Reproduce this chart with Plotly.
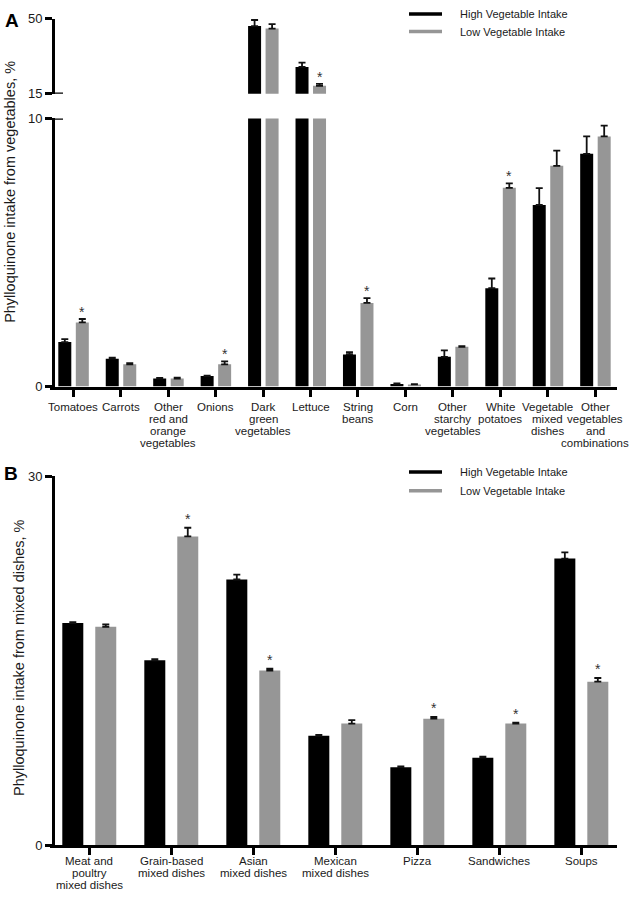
import plotly.graph_objects as go

# ---------------- Data ----------------
veg_categories = ["Tomatoes", "Carrots", "Other<br>red and<br>orange<br>vegetables", "Onions",
                  "Dark<br>green<br>vegetables", "Lettuce", "String<br>beans", "Corn",
                  "Other<br>starchy<br>vegetables", "White<br>potatoes", "Vegetable<br>mixed<br>dishes",
                  "Other<br>vegetables<br>and<br>combinations"]
veg_high = [1.66, 1.04, 0.30, 0.39, 46.5, 27.5, 1.20, 0.10, 1.11, 3.67, 6.77, 8.68]
veg_high_err = [0.11, 0.04, 0.02, 0.02, 2.8, 2.0, 0.08, 0.02, 0.24, 0.36, 0.63, 0.65]
veg_low = [2.39, 0.83, 0.30, 0.83, 45.3, 18.7, 3.12, 0.08, 1.48, 7.41, 8.23, 9.33]
veg_low_err = [0.13, 0.04, 0.03, 0.11, 2.1, 0.9, 0.18, 0.01, 0.03, 0.17, 0.57, 0.40]
veg_sig = [True, False, False, True, False, True, True, False, False, True, False, False]

mixed_categories = ["Meat and<br>poultry<br>mixed dishes", "Grain-based<br>mixed dishes",
                    "Asian<br>mixed dishes", "Mexican<br>mixed dishes", "Pizza", "Sandwiches", "Soups"]
mixed_high = [18.06, 15.04, 21.6, 8.9, 6.36, 7.13, 23.3]
mixed_high_err = [0.08, 0.10, 0.4, 0.07, 0.06, 0.08, 0.5]
mixed_low = [17.76, 25.1, 14.2, 9.9, 10.3, 9.9, 13.3]
mixed_low_err = [0.20, 0.7, 0.15, 0.28, 0.15, 0.08, 0.3]
mixed_sig = [False, True, True, False, True, True, True]

series_names = ["High Vegetable Intake", "Low Vegetable Intake"]
A_lower_ticks = [0, 10]
A_upper_ticks = [15, 50]
B_ticks = [0, 30]

# ---------------- Style ----------------
W, H = 631, 899
FONT = "Liberation Sans, Arial, sans-serif"
BLACK = "#000000"
GRAY = "#969696"
TXT = "#1a1a1a"

def px_x(p):
    return p / W

def px_y(p):
    return 1 - p / H

x_dom = [px_x(50), px_x(617)]
y_pos = px_x(53)

fig = go.Figure()

def add_bars(xa, ya, n, high, high_err, low, low_err, off_b, off_g, width):
    idx = list(range(n))
    fig.add_trace(go.Bar(
        x=idx, y=high, name=series_names[0], xaxis=xa, yaxis=ya,
        offset=off_b, width=width, marker=dict(color=BLACK, line=dict(width=0)),
        error_y=dict(type="data", array=high_err, arrayminus=[0] * n, symmetric=False,
                     color="#111111", thickness=1.8, width=3.5),
        showlegend=False))
    fig.add_trace(go.Bar(
        x=idx, y=low, name=series_names[1], xaxis=xa, yaxis=ya,
        offset=off_g, width=width, marker=dict(color=GRAY, line=dict(width=0)),
        error_y=dict(type="data", array=low_err, arrayminus=[0] * n, symmetric=False,
                     color="#111111", thickness=1.8, width=3.5),
        showlegend=False))

# Panel A geometry
A_w = 0.274
A_ob, A_og = -0.316, 0.053
add_bars("x", "y", len(veg_categories), veg_high, veg_high_err, veg_low, veg_low_err, A_ob, A_og, A_w)
add_bars("x2", "y2", len(veg_categories), veg_high, veg_high_err, veg_low, veg_low_err, A_ob, A_og, A_w)

# Panel B geometry
B_w = 0.256
B_ob, B_og = -0.329, 0.073
add_bars("x3", "y3", len(mixed_categories), mixed_high, mixed_high_err, mixed_low, mixed_low_err, B_ob, B_og, B_w)

annotations = []
# category labels (tight line spacing as in the reference)
def add_cat_labels(cats, xref, first_line_px, spacing, size):
    for i, c in enumerate(cats):
        for j, line in enumerate(c.split("<br>")):
            annotations.append(dict(x=i, y=px_y(first_line_px + j * spacing), xref=xref, yref="paper",
                                    text=line, showarrow=False, xanchor="center", yanchor="middle",
                                    font=dict(size=size, color=TXT, family=FONT)))

add_cat_labels(veg_categories, "x", 406.7, 12.4, 11.5)
add_cat_labels(mixed_categories, "x3", 868.0, 12.4, 11.5)

# significance stars
for i, s in enumerate(veg_sig):
    if s:
        top = veg_low[i] + veg_low_err[i]
        annotations.append(dict(x=i + A_og + A_w / 2, y=top, xref="x",
                                yref="y2" if top > 10 else "y", text="*", showarrow=False,
                                yanchor="middle", yshift=7, font=dict(size=14, color="#333333", family=FONT)))
for i, s in enumerate(mixed_sig):
    if s:
        top = mixed_low[i] + mixed_low_err[i]
        annotations.append(dict(x=i + B_og + B_w / 2, y=top, xref="x3", yref="y3", text="*",
                                showarrow=False, yanchor="middle", yshift=9,
                                font=dict(size=14, color="#333333", family=FONT)))

# panel letters
annotations.append(dict(x=px_x(3), y=px_y(14), xref="paper", yref="paper", text="<b>A</b>",
                        showarrow=False, xanchor="left", yanchor="middle",
                        font=dict(size=19, color=BLACK, family=FONT)))
annotations.append(dict(x=px_x(2), y=px_y(474), xref="paper", yref="paper", text="<b>B</b>",
                        showarrow=False, xanchor="left", yanchor="middle",
                        font=dict(size=19, color=BLACK, family=FONT)))
# y-axis titles
annotations.append(dict(x=px_x(10), y=px_y(188), xref="paper", yref="paper",
                        text="Phylloquinone intake from vegetables, %", textangle=-90,
                        showarrow=False, xanchor="center", yanchor="middle",
                        font=dict(size=14.5, color=TXT, family=FONT)))
annotations.append(dict(x=px_x(19), y=px_y(662), xref="paper", yref="paper",
                        text="Phylloquinone intake from mixed dishes, %", textangle=-90,
                        showarrow=False, xanchor="center", yanchor="middle",
                        font=dict(size=14.5, color=TXT, family=FONT)))

shapes = []
# legends (line samples + text)
for (ly1, ly2) in [(7, 25), (473, 492)]:
    for ly, col, name in [(ly1, BLACK, series_names[0]), (ly2, GRAY, series_names[1])]:
        shapes.append(dict(type="line", xref="paper", yref="paper", x0=px_x(409), x1=px_x(442),
                           y0=px_y(ly), y1=px_y(ly), line=dict(color=col, width=3.5)))
        annotations.append(dict(x=px_x(458), y=px_y(ly), xref="paper", yref="paper", text=name,
                                showarrow=False, xanchor="left", yanchor="middle",
                                font=dict(size=11, color=TXT, family=FONT)))

# axis-break marks
shapes.append(dict(type="line", xref="paper", yref="y2", x0=px_x(53), x1=px_x(63), y0=15, y1=15,
                   line=dict(color=BLACK, width=2.5)))
shapes.append(dict(type="line", xref="paper", yref="y", x0=px_x(53), x1=px_x(63), y0=10, y1=10,
                   line=dict(color=BLACK, width=2.5)))

common_x = dict(showgrid=False, zeroline=False, showline=True, linecolor=BLACK, linewidth=3,
                ticks="outside", ticklen=7, tickwidth=2.5, tickcolor=BLACK, showticklabels=False)
common_y = dict(showgrid=False, zeroline=False, showline=True, linecolor=BLACK, linewidth=3,
                ticks="outside", ticklen=7, tickwidth=2.5, tickcolor=BLACK, anchor="free",
                position=y_pos, tickfont=dict(size=13, color=TXT, family=FONT))

fig.update_layout(
    width=W, height=H, margin=dict(l=0, r=0, t=0, b=0),
    paper_bgcolor="white", plot_bgcolor="white", barmode="overlay",
    font=dict(family=FONT, color=TXT),
    showlegend=False,
    xaxis=dict(domain=x_dom, anchor="y", range=[-0.491, 11.46],
               tickvals=list(range(len(veg_categories))), **common_x),
    yaxis=dict(domain=[px_y(386), px_y(113.3)], range=[0, 10], tickvals=A_lower_ticks, **common_y),
    xaxis2=dict(domain=x_dom, anchor="y2", matches="x", visible=False),
    yaxis2=dict(domain=[px_y(88.3), px_y(11.7)], range=[15, 50], tickvals=A_upper_ticks, **common_y),
    xaxis3=dict(domain=x_dom, anchor="y3", range=[-0.479, 6.435],
                tickvals=list(range(len(mixed_categories))), **common_x),
    yaxis3=dict(domain=[px_y(852.7), px_y(477)], range=[0, 30], tickvals=B_ticks, **common_y),
    annotations=annotations, shapes=shapes,
)

fig.write_html("out.html", config={"displayModeBar": False},
               post_script="document.body.style.margin='0px';document.body.style.padding='0px';")
